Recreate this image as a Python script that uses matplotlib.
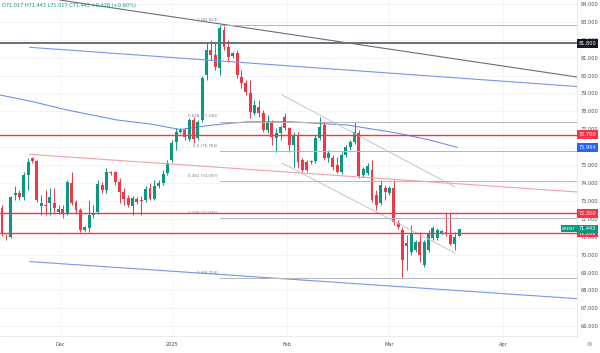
import numpy as np
import matplotlib
matplotlib.use("Agg")
import matplotlib.pyplot as plt
import matplotlib.transforms as mtransforms

# daily candles, oldest first (open, high, low, close)
opens = [72.60, 71.00, 70.98, 73.33, 73.44, 73.22, 74.45, 75.40, 75.23, 72.71,
         72.77, 72.88, 72.88, 72.38, 72.55, 72.32, 74.00, 72.94, 72.49, 71.37,
         71.49, 72.21, 72.38, 73.89, 73.61, 74.61, 74.61, 74.05, 73.50, 73.16,
         72.71, 73.10, 73.05, 73.05, 73.72, 73.10, 73.84, 74.00, 74.56, 75.28,
         76.29, 76.85, 76.96, 76.46, 77.52, 76.51, 77.52, 80.03, 81.43, 81.15,
         80.43, 82.55, 81.60, 81.10, 81.26, 79.92, 79.59, 79.03, 77.91, 78.25,
         77.91, 76.96, 77.35, 76.51, 76.79, 77.69, 77.07, 76.12, 76.68, 75.28,
         75.17, 75.17, 75.23, 76.51, 77.24, 75.40, 75.40, 75.01, 74.61, 75.56,
         76.01, 76.29, 76.79, 74.45, 74.56, 74.73, 73.33, 72.88, 73.72, 73.44,
         73.72, 71.76, 71.37, 70.65, 70.14, 70.26, 70.70, 69.42, 70.26, 70.93,
         70.93, 71.21, 71.26, 71.09, 70.59, 71.017]
highs = [72.77, 71.15, 73.27, 73.84, 73.61, 74.61, 75.40, 75.45, 75.28, 73.33,
         73.61, 73.72, 73.72, 72.77, 72.77, 74.17, 74.61, 73.05, 72.60, 71.60,
         73.05, 72.77, 74.17, 74.05, 74.84, 74.67, 74.67, 74.28, 73.72, 73.33,
         73.27, 73.22, 73.27, 73.84, 74.00, 74.17, 74.17, 74.73, 75.28, 76.40,
         77.07, 77.07, 77.07, 77.63, 77.69, 77.52, 79.98, 81.88, 81.99, 81.88,
         82.82, 82.77, 81.99, 81.32, 81.43, 80.31, 79.75, 79.75, 78.64, 78.64,
         78.08, 77.80, 77.52, 77.07, 77.24, 77.91, 77.13, 76.85, 76.85, 75.40,
         75.28, 75.28, 76.68, 77.69, 77.35, 75.84, 75.56, 75.45, 75.73, 76.12,
         76.40, 77.41, 76.96, 74.90, 75.12, 75.28, 73.61, 74.17, 73.89, 73.84,
         74.17, 71.93, 71.54, 71.09, 71.65, 70.82, 71.26, 70.82, 71.37, 71.60,
         71.49, 71.37, 72.32, 72.32, 71.26, 71.443]
lows = [71.04, 70.82, 70.93, 73.05, 73.05, 73.05, 73.61, 75.12, 72.94, 72.21,
        72.21, 72.21, 72.32, 72.27, 72.04, 72.21, 72.77, 72.32, 71.26, 71.32,
        71.26, 72.04, 72.27, 73.44, 73.44, 74.45, 73.89, 72.88, 72.77, 72.66,
        72.21, 72.83, 72.21, 72.94, 73.05, 73.05, 73.72, 73.89, 74.45, 75.17,
        75.84, 76.79, 76.40, 76.35, 76.23, 76.40, 77.41, 79.75, 80.87, 80.31,
        80.03, 81.43, 80.76, 80.98, 79.87, 79.31, 78.92, 77.63, 77.80, 77.69,
        76.85, 76.79, 76.12, 75.73, 76.40, 76.96, 75.73, 74.90, 74.84, 74.61,
        74.61, 75.06, 75.12, 76.40, 75.28, 75.17, 74.73, 74.56, 74.50, 75.45,
        75.84, 76.18, 74.28, 74.33, 74.45, 72.94, 72.49, 72.77, 73.05, 73.33,
        71.65, 71.43, 68.75, 69.14, 69.98, 70.14, 69.59, 69.31, 70.14, 70.82,
        70.82, 71.15, 71.04, 70.54, 70.26, 71.017]
closes = [71.21, 70.96, 73.22, 73.44, 73.22, 74.45, 75.17, 75.23, 73.05, 72.88,
          72.71, 73.22, 72.60, 72.55, 72.32, 74.05, 72.88, 72.49, 71.37, 71.54,
          72.21, 72.32, 73.94, 73.61, 74.61, 74.56, 74.05, 73.50, 73.10, 72.77,
          73.16, 72.94, 72.99, 73.66, 73.10, 73.84, 74.00, 74.50, 75.12, 76.23,
          76.85, 76.96, 76.57, 77.52, 76.46, 77.41, 79.87, 81.43, 81.15, 80.48,
          82.66, 81.60, 81.04, 81.26, 80.03, 79.59, 79.08, 77.97, 78.36, 77.91,
          76.96, 77.35, 76.57, 76.79, 77.13, 77.07, 76.12, 76.68, 75.17, 74.73,
          74.73, 75.23, 76.51, 77.13, 75.40, 75.67, 74.90, 74.61, 75.56, 76.01,
          76.29, 76.85, 74.39, 74.78, 74.95, 73.05, 72.77, 73.89, 73.50, 73.72,
          71.82, 71.54, 69.70, 70.48, 71.21, 70.70, 69.98, 70.70, 71.21, 71.49,
          71.37, 71.32, 71.15, 70.59, 70.98, 71.443]
change = 0.426
change_pct = 0.60

# moving average read at a few bars
ma_bars = [-0.5, 7.1, 14.9, 26.4, 34.0, 40.9, 48.5, 56.3, 66.2, 79.3, 90.8, 98.3, 104.5]
ma_vals = [78.92, 78.54, 78.08, 77.52, 77.30, 76.99, 77.24, 77.42, 77.42, 77.24, 76.79, 76.40, 75.994]

# fibonacci retracement
fib_ratios = ["1", "0.618", "0.5", "0.382", "0.236", "0"]
fib_levels = [82.823, 77.430, 75.764, 74.097, 72.036, 68.704]
fib_start = 50

# horizontal levels
red_levels = [76.700, 72.300, 71.200]
black_level = 81.800

# trendlines: (bar0, price0, bar1, price1)
trend_dark = (13.3, 84.22, 132.1, 79.92)
chan_blue_top = (6.4, 81.58, 132.1, 79.39)
chan_blue_bot = (6.4, 69.61, 132.1, 67.54)
trend_pink = (6.4, 75.60, 132.1, 73.50)
chan_gray_top = (64.3, 78.92, 104.1, 73.78)
chan_gray_bot = (64.3, 75.12, 104.1, 70.09)

month_ticks = [13.3, 39.1, 65.5, 88.9, 115.1]
month_labels = ["Dec", "2025", "Feb", "Mar", "Apr"]
price_ticks = list(range(66, 85))
hidden_ticks = [76]  # fully covered by the MA tag

UP = "#089981"
DOWN = "#f23645"
BLUE = "#2962ff"

fig = plt.figure(figsize=(6, 3.53), dpi=100)
ax = fig.add_axes([0, 17 / 353, 577 / 600, 336 / 353])
ax.set_xlim(-0.46, 132.1)
ax.set_ylim(65.453, 84.223)

# grid
for p in price_ticks:
    ax.axhline(p, color="#f3f4f7", lw=0.6, zorder=0)
for m in month_ticks:
    ax.axvline(m, color="#f3f4f7", lw=0.6, zorder=0)

# candles
o = np.array(opens)
h = np.array(highs)
l = np.array(lows)
c = np.array(closes)
x = np.arange(len(o))
cols = np.where(c >= o, UP, DOWN)
ax.vlines(x, l, h, colors=cols, lw=0.7, zorder=2)
body_h = np.maximum(np.abs(c - o), 0.05)
ax.bar(x, body_h, bottom=np.minimum(o, c), width=0.68, color=cols, lw=0, zorder=2)

# moving average
ax.plot(ma_bars, ma_vals, color="#5b7fe0", lw=0.8, alpha=0.85, zorder=1.5)


def seg(t, **kw):
    ax.plot([t[0], t[2]], [t[1], t[3]], **kw)


seg(trend_dark, color="#6a6d78", lw=0.8, zorder=3)
seg(chan_blue_top, color="#7a95e6", lw=0.8, zorder=3)
seg(chan_blue_bot, color="#7a95e6", lw=0.8, zorder=3)
seg(trend_pink, color="#f4a0a6", lw=0.8, zorder=3)
seg(chan_gray_top, color="#c4c6cc", lw=0.7, zorder=3)
seg(chan_gray_bot, color="#c4c6cc", lw=0.7, zorder=3)

# horizontal levels
ax.axhline(black_level, color="#6d6f78", lw=1.4, zorder=3)
for lv in red_levels:
    ax.axhline(lv, color=DOWN, lw=1.0, zorder=3)

# fibonacci lines and labels
for r, lv in zip(fib_ratios, fib_levels):
    ax.plot([fib_start, 132.1], [lv, lv], color="#b2b5be", lw=0.7, zorder=3)
    ax.annotate(f"{r} ({lv:.3f})", (fib_start, lv), xytext=(-1.5, 3.8),
                textcoords="offset points", ha="right", va="center",
                fontsize=2.9, color="#787b86", zorder=4)

# right price scale
ax.yaxis.tick_right()
ax.set_yticks(price_ticks)
ax.set_yticklabels(["" if p in hidden_ticks else f"{p:.3f}" for p in price_ticks])
ax.tick_params(axis="y", length=0, pad=2.5, labelsize=3.6, labelcolor="#4a4d57")
ax.set_xticks(month_ticks)
ax.set_xticklabels(month_labels)
ax.tick_params(axis="x", length=0, pad=4.5, labelsize=3.6, labelcolor="#4a4d57")
for s in ["left", "top"]:
    ax.spines[s].set_visible(False)
for s in ["right", "bottom"]:
    ax.spines[s].set_color("#e0e3eb")
    ax.spines[s].set_linewidth(0.5)

# price tags on the scale
tr = mtransforms.blended_transform_factory(ax.transAxes, ax.transData)


def tag(price, face, fg="white"):
    ax.text(1.003, price, f"{price:.3f}", transform=tr, ha="left", va="center",
            fontsize=3.6, color=fg, zorder=6, clip_on=False,
            bbox=dict(boxstyle="square,pad=0.35", fc=face, ec="none"))


tag(black_level, "#131722")
tag(red_levels[0], DOWN)
tag(ma_vals[-1], BLUE)
tag(red_levels[1], DOWN)
tag(red_levels[2], DOWN)
tag(closes[-1], UP)
ax.text(0.998, closes[-1], "BRENT", transform=tr, ha="right", va="center",
        fontsize=3.0, color="white", zorder=6,
        bbox=dict(boxstyle="square,pad=0.35", fc=UP, ec="none"))

# OHLC header
fig.text(2 / 600, 1 - 6 / 353,
         f"O{opens[-1]:.3f} H{highs[-1]:.3f} L{lows[-1]:.3f} C{closes[-1]:.3f} "
         f"+{change:.3f} (+{change_pct:.2f}%)",
         fontsize=3.6, color=UP, va="center", ha="left")

fig.text(589 / 600, 1 - 345 / 353, "⚙", fontsize=4.5, color="#787b86", ha="center", va="center")

fig.savefig("out.png", dpi=100, facecolor="white")
